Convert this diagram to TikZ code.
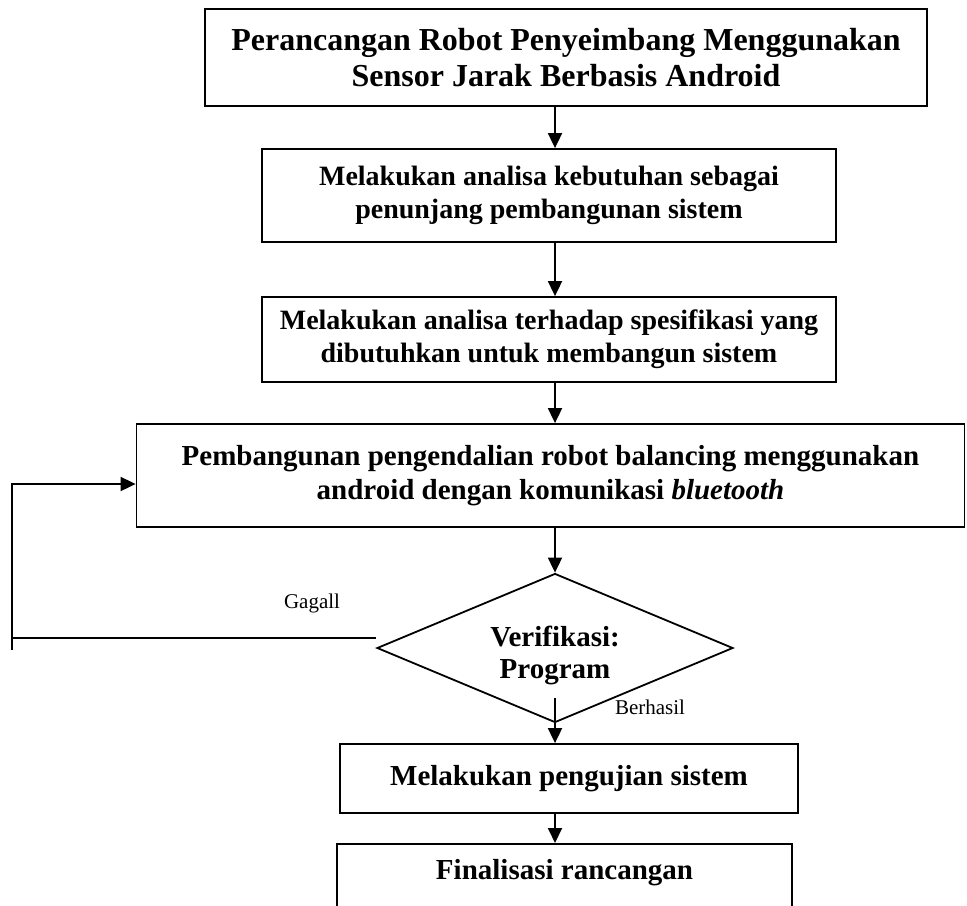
\documentclass[tikz,border=0pt]{standalone}
\usepackage{fontspec}
\setmainfont{Liberation Serif}
\usetikzlibrary{positioning,arrows.meta,shapes.geometric}

\begin{document}
\begin{tikzpicture}[
  x=0.5pt,y=-0.5pt,
  procbox/.style={draw,line width=0.9pt,align=center,inner sep=0pt,
                  font=\fontsize{14.5}{17}\selectfont\bfseries},
  titlebox/.style={procbox,font=\fontsize{16}{18}\selectfont\bfseries},
  smallbox/.style={procbox,font=\fontsize{14}{16.5}\selectfont\bfseries},
  decision/.style={diamond,draw,line width=0.9pt,aspect=2.4,inner sep=0pt,
                   minimum width=178pt,minimum height=74.5pt,align=center,
                   font=\fontsize{14.5}{16}\selectfont\bfseries},
  lbl/.style={font=\fontsize{10.5}{12}\selectfont},
  line/.style={draw,line width=0.9pt},
  arr/.style={line,-{Triangle[length=7.5pt,width=7pt]}},
]
\useasboundingbox (0,0) rectangle (967,905);

% main column of steps
\node[titlebox,minimum width=361pt,minimum height=48.5pt] (judul) at (566,57.5)
  {Perancangan Robot Penyeimbang Menggunakan\\Sensor Jarak Berbasis Android};
\node[smallbox,minimum width=287pt,minimum height=46.5pt] (analisa) at (549,195.5)
  {Melakukan analisa kebutuhan sebagai\\penunjang pembangunan sistem};
\node[smallbox,minimum width=287pt,minimum height=42.5pt] (spesifikasi) at (549,339.5)
  {Melakukan analisa terhadap spesifikasi yang\\dibutuhkan untuk membangun sistem};
\node[procbox,minimum width=414pt,minimum height=51.5pt] (bangun) at (550.5,475.5)
  {Pembangunan pengendalian robot balancing menggunakan\\android dengan komunikasi \textit{bluetooth}};
\node[decision] (verif) at (555,648) {\rule{0pt}{18pt}Verifikasi:\\Program};
\node[procbox,minimum width=229pt,minimum height=34.5pt] (uji) at (569,778.5)
  {Melakukan pengujian sistem};
\node[procbox,anchor=north,minimum width=227.5pt,text height=18pt,text depth=30pt] (final)
  at (564.5,843) {Finalisasi rancangan};

% labels
\node[lbl] (gagal) at (312,603) {Gagall};
\node[lbl] (berhasil) at (650,707) {Berhasil};

% arrows down
\draw[arr] (judul.south -| verif.north) -- (analisa.north -| verif.north);
\draw[arr] (analisa.south -| verif.north) -- (spesifikasi.north -| verif.north);
\draw[arr] (spesifikasi.south -| verif.north) -- (bangun.north -| verif.north);
\draw[arr] (bangun.south -| verif.north) -- (verif.north);
\draw[arr] ([yshift=12.5pt]verif.south) -- (uji.north -| verif.south);
\draw[arr] (uji.south -| verif.south) -- (final.north -| verif.south);

% loop back when failed
\coordinate (balik) at (12,650);
\draw[line] ([yshift=5pt]verif.west) -- ([yshift=5pt]verif.west -| balik);
\draw[arr] (balik) |- ([yshift=-4.25pt]bangun.west);
\end{tikzpicture}
\end{document}
